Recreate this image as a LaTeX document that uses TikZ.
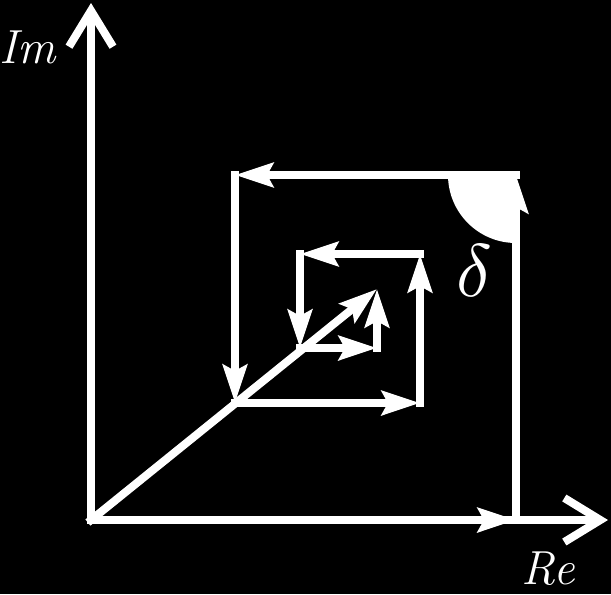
\documentclass[tikz,border=0pt]{standalone}
\usetikzlibrary{arrows.meta}
\tikzset{
  vec/.style={white, line width=0.2cm, line cap=rect, -{Stealth[length=0.95cm, width=0.6cm, inset=0.15cm]}},
  axis/.style={white, line width=0.2cm, -{Straight Barb[length=0.9cm, width=1.1cm]}},
  lbl/.style={white, font=\fontsize{34}{40}\selectfont\itshape},
}
\begin{document}
\begin{tikzpicture}[x=0.025cm, y=-0.025cm]
  \fill[black] (0,0) rectangle (611,594);
  \useasboundingbox (0,0) rectangle (611,594);
  % points of the spiral
  \coordinate (O) at (91,520);
  \coordinate (A) at (516,520);
  \coordinate (B) at (516,175);
  \coordinate (C) at (235,175);
  \coordinate (D) at (235,403);
  \coordinate (E) at (420,403);
  \coordinate (F) at (420,254);
  \coordinate (G) at (300,254);
  \coordinate (H) at (300,348);
  \coordinate (K) at (377,348);
  \coordinate (L) at (377,289);
  \coordinate (ImEnd) at (91,3);
  \coordinate (ReEnd) at (608,520);
  % angle mark
  \fill[white] (B) -- ++(-68,0) arc[start angle=180, end angle=90, radius=68] -- cycle;
  % axes
  \draw[axis] (O) -- (ImEnd);
  \draw[axis] (O) -- (ReEnd);
  % vectors
  \draw[vec] (O) -- (A);
  \draw[vec] (A) -- (B);
  \draw[vec] (B) -- (C);
  \draw[vec] (C) -- (D);
  \draw[vec] (D) -- (E);
  \draw[vec] (E) -- (F);
  \draw[vec] (F) -- (G);
  \draw[vec] (G) -- (H);
  \draw[vec] (H) -- (K);
  \draw[vec] (K) -- (L);
  \draw[vec] (O) -- (L);
  % labels
  \node[lbl] (im) at (28,47) {Im};
  \node[lbl] (re) at (548,569) {Re};
  \node[white, scale=5.3] (delta) at (474,271) {$\delta$};
\end{tikzpicture}
\end{document}
